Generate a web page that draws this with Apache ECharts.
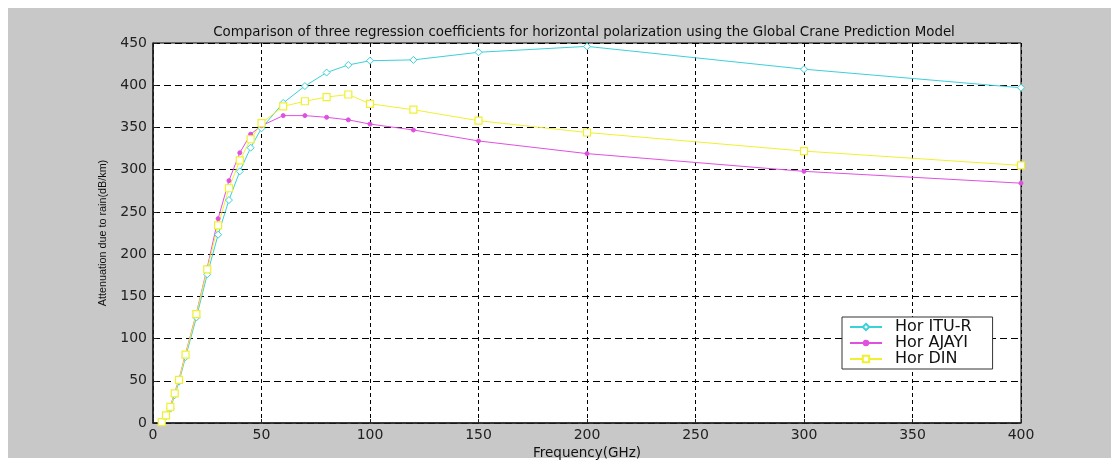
<!DOCTYPE html>
<html><head><meta charset="utf-8">
<script src="https://cdn.jsdelivr.net/npm/echarts@6/dist/echarts.min.js"></script>
<style>
html,body{margin:0;padding:0;background:#fff;}
#bg{position:absolute;left:8px;top:8px;width:1103px;height:450px;background:#c8c8c8;}
#chart{position:absolute;left:0;top:0;width:1119px;height:468px;}
</style></head>
<body><div id="bg"></div><div id="chart"></div>
<script>
const frequencies = [4, 6, 8, 10, 12, 15, 20, 25, 30, 35, 40, 45, 50, 60, 70, 80, 90, 100, 120, 150, 200, 300, 400];
const ituR  = [1, 8, 17, 33, 49, 78, 125, 176, 223, 264, 298, 326, 349, 379, 399, 415, 424, 429, 430, 439, 446, 419, 397];
const ajayi = [2, 10, 20, 36, 52, 82, 130, 184, 242, 287, 320, 342, 352, 364, 364, 362, 359, 354, 347, 334, 319, 298, 284];
const din   = [1, 9, 19, 35, 51, 81, 129, 182, 234, 278, 311, 336, 355, 375, 381, 386, 389, 378, 371, 358, 344, 322, 305];
const seriesNames = ['Hor ITU-R', 'Hor AJAYI', 'Hor DIN'];
const titleText = 'Comparison of three regression coefficients for horizontal polarization using the Global Crane Prediction Model';

const pairs = arr => frequencies.map((f, i) => [f, arr[i]]);
const font = 'DejaVu Sans, Verdana, sans-serif';
const chart = echarts.init(document.getElementById('chart'));
chart.setOption({
  backgroundColor: 'transparent',
  animation: false,
  title: {
    text: titleText, left: 579, top: 21, textAlign: 'center',
    textStyle: {fontFamily: font, fontSize: 13.4, fontWeight: 'normal', color: '#111'}
  },
  legend: {
    orient: 'vertical', left: 842, top: 317,
    backgroundColor: '#fff', borderColor: '#333', borderWidth: 1,
    padding: [2, 21, 2, 7], itemGap: 0, itemWidth: 32, itemHeight: 8,
    textStyle: {fontFamily: font, fontSize: 16, lineHeight: 15, color: '#111', padding: [0, 0, 0, 8]},
    data: seriesNames
  },
  grid: {
    left: 153, top: 43, width: 868, height: 380,
    show: true, backgroundColor: '#fff', borderColor: '#000', borderWidth: 1
  },
  xAxis: {
    type: 'value', min: 0, max: 400, interval: 50,
    name: 'Frequency(GHz)', nameLocation: 'middle', nameGap: 21,
    nameTextStyle: {fontFamily: font, fontSize: 13.5, color: '#111'},
    axisLine: {lineStyle: {color: '#222', width: 1.5}},
    axisTick: {inside: true, length: 4, lineStyle: {color: '#222'}},
    axisLabel: {fontFamily: font, fontSize: 14, color: '#222', margin: 5},
    splitLine: {lineStyle: {color: '#000', type: [4, 3], width: 1}}
  },
  yAxis: {
    type: 'value', min: 0, max: 450, interval: 50,
    name: 'Attenuation due to rain(dB/km)', nameLocation: 'middle', nameGap: 44,
    nameTextStyle: {fontFamily: 'Liberation Sans Narrow, Arial Narrow, sans-serif', fontSize: 10.8, color: '#111'},
    axisLine: {lineStyle: {color: '#222', width: 1.5}},
    axisTick: {inside: true, length: 4, lineStyle: {color: '#222'}},
    axisLabel: {fontFamily: font, fontSize: 14, color: '#222', margin: 6},
    splitLine: {lineStyle: {color: '#000', type: [7, 4], width: 1}}
  },
  series: [
    {name: seriesNames[0], type: 'line', data: pairs(ituR), color: '#3cd0d8',
     symbol: 'diamond', symbolSize: 7, showAllSymbol: true,
     itemStyle: {color: '#fff', borderColor: '#3cd0d8', borderWidth: 1},
     lineStyle: {color: '#3cd0d8', width: 1}},
    {name: seriesNames[1], type: 'line', data: pairs(ajayi), color: '#e050e0',
     symbol: 'circle', symbolSize: 4, showAllSymbol: true,
     itemStyle: {color: '#e050e0', borderColor: '#e050e0'},
     lineStyle: {color: '#e050e0', width: 1}},
    {name: seriesNames[2], type: 'line', data: pairs(din), color: '#f0f030',
     symbol: 'rect', symbolSize: 7, showAllSymbol: true,
     itemStyle: {color: '#fff', borderColor: '#f0f030', borderWidth: 1.2},
     lineStyle: {color: '#f0f030', width: 1}}
  ]
});
</script></body></html>
